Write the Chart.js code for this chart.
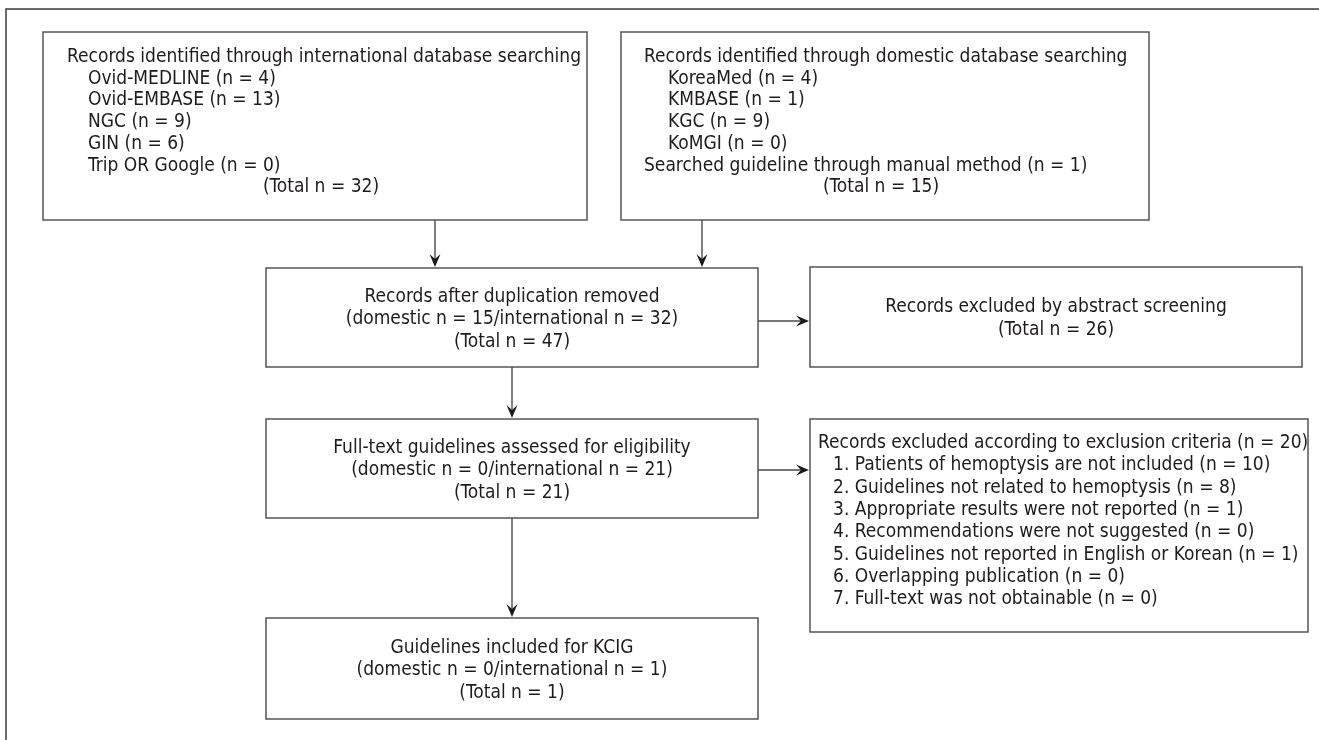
<!DOCTYPE html>
<html>
<head>
<meta charset="utf-8">
<script src="https://cdn.jsdelivr.net/npm/chart.js@4"></script>
<style>
html,body{margin:0;padding:0;background:#fff;}
#wrap{width:1319px;height:740px;position:relative;}
</style>
</head>
<body>
<div id="wrap"><canvas id="c"></canvas></div>
<script>
// ---- data ----
const intlSources = ['Ovid-MEDLINE', 'Ovid-EMBASE', 'NGC', 'GIN', 'Trip OR Google'];
const intlCounts = [4, 13, 9, 6, 0];
const intlTotal = 32;
const domSources = ['KoreaMed', 'KMBASE', 'KGC', 'KoMGI'];
const domCounts = [4, 1, 9, 0];
const manualCount = 1;
const domTotal = 15;
const dedupDomestic = 15, dedupIntl = 32, dedupTotal = 47;
const abstractExcluded = 26;
const fullTextDomestic = 0, fullTextIntl = 21, fullTextTotal = 21;
const exclusionTotal = 20;
const exclusionReasons = [
  'Patients of hemoptysis are not included',
  'Guidelines not related to hemoptysis',
  'Appropriate results were not reported',
  'Recommendations were not suggested',
  'Guidelines not reported in English or Korean',
  'Overlapping publication',
  'Full-text was not obtainable'
];
const exclusionCounts = [10, 8, 1, 0, 1, 0, 0];
const includedDomestic = 0, includedIntl = 1, includedTotal = 1;

// ---- text content ----
const box1Lines = ['Records identified through international database searching']
  .concat(intlSources.map((s, i) => s + ' (n = ' + intlCounts[i] + ')'));
const box1Total = '(Total n = ' + intlTotal + ')';
const box2Lines = ['Records identified through domestic database searching']
  .concat(domSources.map((s, i) => s + ' (n = ' + domCounts[i] + ')'));
const box2Manual = 'Searched guideline through manual method (n = ' + manualCount + ')';
const box2Total = '(Total n = ' + domTotal + ')';
const box3Lines = ['Records after duplication removed',
  '(domestic n = ' + dedupDomestic + '/international n = ' + dedupIntl + ')',
  '(Total n = ' + dedupTotal + ')'];
const box6Lines = ['Records excluded by abstract screening', '(Total n = ' + abstractExcluded + ')'];
const box4Lines = ['Full-text guidelines assessed for eligibility',
  '(domestic n = ' + fullTextDomestic + '/international n = ' + fullTextIntl + ')',
  '(Total n = ' + fullTextTotal + ')'];
const box7Head = 'Records excluded according to exclusion criteria (n = ' + exclusionTotal + ')';
const box7Items = exclusionReasons.map((r, i) => (i + 1) + '. ' + r + ' (n = ' + exclusionCounts[i] + ')');
const box5Lines = ['Guidelines included for KCIG',
  '(domestic n = ' + includedDomestic + '/international n = ' + includedIntl + ')',
  '(Total n = ' + includedTotal + ')'];

// ---- layout (drawing positions in axis units) ----
const L = {
  b1: [43, 587, 32, 220], b2: [621, 1149, 32, 220],
  b3: [266, 758, 268, 367], b6: [810, 1302, 267, 367],
  b4: [266, 758, 419, 518], b7: [810, 1308, 419, 632],
  b5: [266, 758, 618, 719]
};
const FONT = '19px "DejaVu Sans Condensed", "Liberation Sans Narrow", "Open Sans", sans-serif';
const TEXT_COLOR = '#1f1b1c';
const LINE_COLOR = '#4a4a4a';

const flowPlugin = {
  id: 'flow',
  afterDraw(chart) {
    const ctx = chart.ctx;
    const xs = chart.scales.x, ys = chart.scales.y;
    const X = v => xs.getPixelForValue(v), Y = v => ys.getPixelForValue(v);
    ctx.save();
    ctx.font = FONT;
    const refW = ctx.measureText(box1Lines[0]).width;
    const sx = 514 / refW;

    function text(str, x, y, align) {
      ctx.save();
      ctx.font = FONT;
      ctx.fillStyle = TEXT_COLOR;
      ctx.textBaseline = 'alphabetic';
      const w = ctx.measureText(str).width * sx;
      let px = X(x);
      if (align === 'center') px -= w / 2;
      ctx.translate(px, Y(y));
      ctx.scale(sx, 1);
      ctx.textAlign = 'left';
      ctx.fillText(str, 0, 0);
      ctx.restore();
    }
    function box(b) {
      ctx.save();
      ctx.strokeStyle = '#555';
      ctx.lineWidth = 1.5;
      ctx.strokeRect(X(b[0]), Y(b[2]), X(b[1]) - X(b[0]), Y(b[3]) - Y(b[2]));
      ctx.restore();
    }
    function arrow(x0, y0, x1, y1) {
      const px0 = X(x0), py0 = Y(y0), px1 = X(x1), py1 = Y(y1);
      const ang = Math.atan2(py1 - py0, px1 - px0);
      const len = 13, half = 5.5, notch = 8;
      ctx.save();
      ctx.strokeStyle = LINE_COLOR;
      ctx.lineWidth = 1.4;
      ctx.beginPath();
      ctx.moveTo(px0, py0);
      ctx.lineTo(px1 - Math.cos(ang) * notch, py1 - Math.sin(ang) * notch);
      ctx.stroke();
      ctx.translate(px1, py1);
      ctx.rotate(ang);
      ctx.fillStyle = '#1a1a1a';
      ctx.beginPath();
      ctx.moveTo(0, 0);
      ctx.lineTo(-len, -half);
      ctx.lineTo(-notch, 0);
      ctx.lineTo(-len, half);
      ctx.closePath();
      ctx.fill();
      ctx.restore();
    }
    function centered(lines, b, step) {
      const cy = (b[2] + b[3]) / 2;
      const cx = (b[0] + b[1]) / 2;
      const n = lines.length;
      lines.forEach((s, i) => text(s, cx, cy + 6.5 + (i - (n - 1) / 2) * step, 'center'));
    }

    // frame
    ctx.save();
    ctx.strokeStyle = '#3a3a3a';
    ctx.lineWidth = 1.5;
    ctx.beginPath();
    ctx.moveTo(X(6), Y(740));
    ctx.lineTo(X(6), Y(9));
    ctx.lineTo(X(1319), Y(9));
    ctx.stroke();
    ctx.restore();

    Object.values(L).forEach(box);

    // box 1
    const st = 21.7;
    box1Lines.forEach((s, i) => text(s, i === 0 ? 67 : 88, 62 + i * st, 'left'));
    text(box1Total, (L.b1[0] + L.b1[1]) / 2 + 6, 62 + 6 * st, 'center');
    // box 2
    box2Lines.forEach((s, i) => text(s, i === 0 ? 644 : 668, 62 + i * st, 'left'));
    text(box2Manual, 644, 62 + 5 * st, 'left');
    text(box2Total, (L.b2[0] + L.b2[1]) / 2 - 4, 62 + 6 * st, 'center');
    // centered boxes
    centered(box3Lines, L.b3, 22.5);
    centered(box6Lines, L.b6, 23.5);
    centered(box4Lines, L.b4, 22.5);
    centered(box5Lines, L.b5, 22.5);
    // box 7
    text(box7Head, 818, 448, 'left');
    box7Items.forEach((s, i) => text(s, 833, 448 + (i + 1) * 22.3, 'left'));

    // arrows
    arrow(435, 220, 435, 267);
    arrow(702, 220, 702, 267);
    arrow(512, 367, 512, 418);
    arrow(758, 321, 809, 321);
    arrow(512, 518, 512, 617);
    arrow(758, 470, 809, 470);
    ctx.restore();
  }
};

new Chart(document.getElementById('c'), {
  type: 'scatter',
  data: { datasets: [{ data: [], pointRadius: 0 }] },
  options: {
    responsive: true,
    maintainAspectRatio: false,
    animation: false,
    layout: { padding: 0 },
    plugins: { legend: { display: false }, tooltip: { enabled: false } },
    scales: {
      x: { type: 'linear', min: 0, max: 1319, display: false },
      y: { type: 'linear', min: 0, max: 740, reverse: true, display: false }
    }
  },
  plugins: [flowPlugin]
});
</script>
</body>
</html>
